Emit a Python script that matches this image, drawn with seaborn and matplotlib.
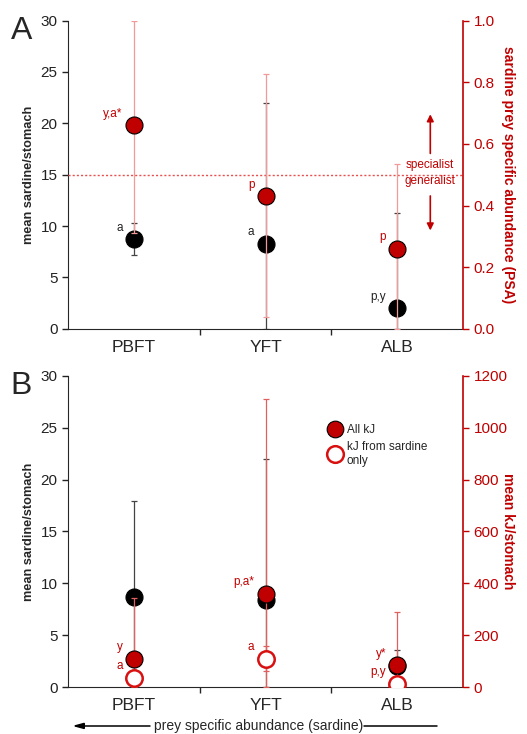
import numpy as np
import pandas as pd
import seaborn as sns
import matplotlib.pyplot as plt
from matplotlib.lines import Line2D

species = ["PBFT", "YFT", "ALB"]

# panel A: sardine per stomach (left) and prey specific abundance (right)
sardine_a = [8.7, 8.3, 2.0]
sardine_a_lo = [7.2, 0.0, 0.0]
sardine_a_hi = [10.3, 22.0, 11.3]
psa = [0.66, 0.43, 0.26]
psa_lo = [0.31, 0.037, 0.0]
psa_hi = [1.0, 0.827, 0.535]
labels_sardine_a = ["a", "a", "p,y"]
labels_psa = ["y,a*", "p", "p"]

# panel B: sardine per stomach (left) and kJ per stomach (right)
sardine_b = [8.7, 8.4, 2.0]
sardine_b_lo = [0.0, 0.0, 0.0]
sardine_b_hi = [17.9, 22.0, 3.6]
kj_all = [108, 360, 84]
kj_all_lo = [0, 0, 0]
kj_all_hi = [345, 1110, 290]
kj_sardine = [36, 108, 12]
kj_sardine_lo = [36, 60, 12]
kj_sardine_hi = [36, 160, 12]
labels_all = ["y", "p,a*", "y*"]
labels_sard = ["a", "a", "p,y"]

RED = "#c00000"
PINK = "#f29a9a"

sns.set_style("ticks")
plt.rcParams["font.family"] = ["Liberation Sans", "DejaVu Sans"]

xpos = np.arange(len(species)) + 0.5
df_a = pd.DataFrame({"x": xpos, "species": species, "sardine": sardine_a, "psa": psa})
df_b = pd.DataFrame({"x": xpos, "species": species, "sardine": sardine_b,
                     "kj_all": kj_all, "kj_sardine": kj_sardine})


def err(mean, lo, hi):
    mean = np.array(mean, float)
    return [mean - np.array(lo, float), np.array(hi, float) - mean]


def style_axes(ax, ax2, right_label, right_lim, right_ticks, right_fmt):
    ax.set_xlim(0, 3)
    ax.set_ylim(0, 30)
    ax.set_yticks(range(0, 31, 5))
    ax.set_xticks(xpos)
    ax.set_xticklabels(species, fontsize=12.5)
    ax.set_xticks([1, 2], minor=True)
    ax.tick_params(axis="x", which="major", length=0, pad=8)
    ax.tick_params(axis="x", which="minor", length=4, width=1)
    ax.tick_params(axis="y", labelsize=11, length=4, width=1, colors="#222222")
    ax.set_ylabel("mean sardine/stomach", fontsize=9.2, fontweight="bold")
    ax.set_xlabel("")
    ax.spines["top"].set_visible(False)
    ax.spines["right"].set_visible(False)
    ax2.set_ylim(*right_lim)
    ax2.set_yticks(right_ticks)
    ax2.set_yticklabels([right_fmt(t) for t in right_ticks])
    ax2.tick_params(axis="y", colors=RED, labelsize=11, length=4, width=1)
    ax2.spines["right"].set_color(RED)
    ax2.spines["right"].set_linewidth(1.2)
    ax2.spines["top"].set_visible(False)
    ax2.spines["left"].set_visible(False)
    ax2.spines["bottom"].set_visible(False)
    ax2.set_ylabel(right_label, color=RED, fontsize=10, fontweight="bold", rotation=270)
    ax2.yaxis.set_label_coords(1.13, 0.5)


def note(ax, x, y, text, color, dx=-8, dy=4):
    ax.annotate(text, (x, y), xytext=(dx, dy), textcoords="offset points",
                ha="right", va="bottom", fontsize=8.5, color=color)


fig = plt.figure(figsize=(5.27, 7.34), dpi=100)
axA = fig.add_axes([0.129, 0.552, 0.750, 0.420])
axB = fig.add_axes([0.129, 0.064, 0.750, 0.424])

# ---- panel A
axA2 = axA.twinx()
axA2.errorbar(df_a["x"], df_a["psa"], yerr=err(psa, psa_lo, psa_hi), fmt="none",
              ecolor=PINK, elinewidth=0.9, capsize=2.5, capthick=0.9, zorder=1)
axA.errorbar(df_a["x"], df_a["sardine"], yerr=err(sardine_a, sardine_a_lo, sardine_a_hi),
             fmt="none", ecolor="#444444", elinewidth=0.9, capsize=2.5, capthick=0.9, zorder=2)
sns.scatterplot(data=df_a, x="x", y="sardine", ax=axA, color="black", s=150,
                edgecolor="black", linewidth=0.8, zorder=3, legend=False)
sns.scatterplot(data=df_a, x="x", y="psa", ax=axA2, color=RED, s=150,
                edgecolor="black", linewidth=0.8, zorder=3, legend=False)
axA2.axhline(0.5, color="#e85050", ls=(0, (1.5, 1.5)), lw=1.0, zorder=0)
for x, y, t in zip(xpos, sardine_a, labels_sardine_a):
    note(axA, x, y, t, "#222222")
for x, y, t in zip(xpos, psa, labels_psa):
    note(axA2, x, y, t, RED)
style_axes(axA, axA2, "sardine prey specific abundance (PSA)", (0, 1.0),
           np.round(np.arange(0, 1.01, 0.2), 1), lambda t: f"{t:.1f}")
axA2.annotate("", xy=(2.75, 0.705), xytext=(2.75, 0.56),
              arrowprops=dict(arrowstyle="-|>", color=RED, lw=1.2, mutation_scale=10))
axA2.annotate("", xy=(2.75, 0.31), xytext=(2.75, 0.44),
              arrowprops=dict(arrowstyle="-|>", color=RED, lw=1.2, mutation_scale=10))
axA2.text(2.745, 0.532, "specialist", color=RED, fontsize=8.5, ha="center", va="center")
axA2.text(2.745, 0.478, "generalist", color=RED, fontsize=8.5, ha="center", va="center")

# ---- panel B
axB2 = axB.twinx()
axB.errorbar(df_b["x"], df_b["sardine"], yerr=err(sardine_b, sardine_b_lo, sardine_b_hi),
             fmt="none", ecolor="#444444", elinewidth=0.9, capsize=2.5, capthick=0.9, zorder=2)
sns.scatterplot(data=df_b, x="x", y="sardine", ax=axB, color="black", s=150,
                edgecolor="black", linewidth=0.8, zorder=3, legend=False)
axB2.errorbar(df_b["x"], df_b["kj_all"], yerr=err(kj_all, kj_all_lo, kj_all_hi), fmt="none",
              ecolor="#e06060", elinewidth=0.9, capsize=2.5, capthick=0.9, zorder=1)
axB2.errorbar(df_b["x"], df_b["kj_sardine"], yerr=err(kj_sardine, kj_sardine_lo, kj_sardine_hi),
              fmt="none", ecolor="#e06060", elinewidth=0.9, capsize=2.5, capthick=0.9, zorder=1)
sns.scatterplot(data=df_b, x="x", y="kj_all", ax=axB2, color=RED, s=150,
                edgecolor="black", linewidth=0.8, zorder=3, legend=False)
sns.scatterplot(data=df_b, x="x", y="kj_sardine", ax=axB2, color="white", s=140,
                edgecolor="#d81010", linewidth=1.8, zorder=3, legend=False)
for x, y, t in zip(xpos, kj_all, labels_all):
    note(axB2, x, y, t, RED)
for x, y, t in zip(xpos, kj_sardine, labels_sard):
    note(axB2, x, y, t, RED)
style_axes(axB, axB2, "mean kJ/stomach", (0, 1200), list(range(0, 1201, 200)),
           lambda t: f"{t:d}")
handles = [Line2D([], [], marker="o", ls="none", markersize=12, markerfacecolor=RED,
                  markeredgecolor="black", markeredgewidth=0.8),
           Line2D([], [], marker="o", ls="none", markersize=12, markerfacecolor="white",
                  markeredgecolor="#d81010", markeredgewidth=1.8)]
axB.legend(handles, ["All kJ", "kJ from sardine\nonly"], loc="upper left",
           bbox_to_anchor=(0.63, 0.88), frameon=False, fontsize=8.5, handletextpad=0.4,
           labelspacing=0.45, handlelength=1.2)

# panel letters
fig.text(0.02, 0.978, "A", fontsize=23, va="top")
fig.text(0.02, 0.495, "B", fontsize=23, va="top")

# bottom gradient note
fig.text(0.49, 0.011, "prey specific abundance (sardine)", fontsize=10, ha="center", va="center")
fig.add_artist(Line2D([0.285, 0.145], [0.011, 0.011], color="black", lw=1.1))
fig.patches.append(plt.Polygon([[0.142, 0.011], [0.16, 0.0145], [0.16, 0.0075]],
                               closed=True, color="black", transform=fig.transFigure))
fig.add_artist(Line2D([0.69, 0.83], [0.011, 0.011], color="black", lw=1.1))

fig.savefig("out.png", dpi=100)
